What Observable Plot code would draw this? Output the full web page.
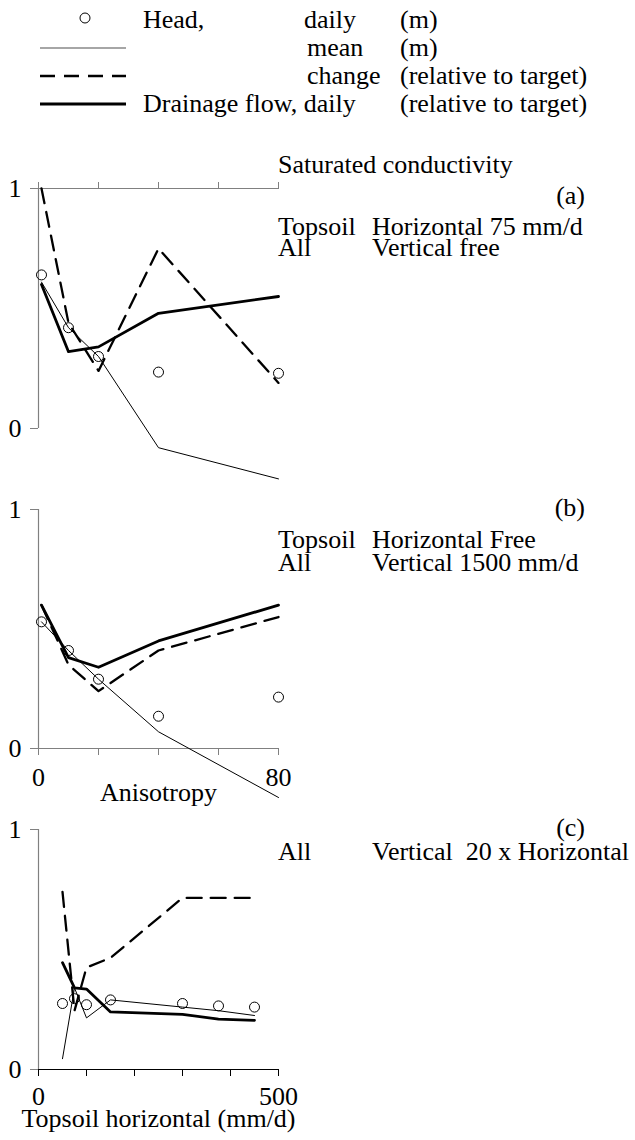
<!DOCTYPE html>
<html><head><meta charset="utf-8">
<script src="https://cdn.jsdelivr.net/npm/d3@7"></script>
<script src="https://cdn.jsdelivr.net/npm/@observablehq/plot@0.6"></script>
<style>
body{margin:0;background:#fff;}
#root{position:relative;width:635px;height:1140px;overflow:hidden;font-family:"Liberation Serif","Times New Roman","DejaVu Serif",serif;font-size:26px;color:#000;background:#fff;}
.t{position:absolute;white-space:pre;line-height:20px;}
.panel{position:absolute;left:0;}
</style></head><body><div id="root"></div>
<script>
// ---- data ----
const anisotropy = [1, 10, 20, 40, 80];
const aHeadDaily  = [0.64, 0.42, 0.30, 0.235, 0.23];
const aHeadMean   = [0.61, 0.42, 0.30, -0.08, -0.21];
const aHeadChange = [1.00, 0.44, 0.24, 0.75, 0.19];
const aDrainDaily = [0.60, 0.32, 0.34, 0.48, 0.55];

const bHeadDaily  = [0.53, 0.41, 0.29, 0.135, 0.215];
const bHeadMean   = [0.53, 0.41, 0.29, 0.07, -0.205];
const bHeadChange = [0.60, 0.35, 0.24, 0.41, 0.55];
const bDrainDaily = [0.60, 0.38, 0.34, 0.45, 0.60];

const topsoilHorizontal = [50, 75, 100, 150, 300, 375, 450];
const cHeadDaily  = [0.275, 0.295, 0.27, 0.29, 0.275, 0.265, 0.26];
const cHeadMean   = [0.045, 0.34, 0.215, 0.29, 0.26, 0.245, 0.225];
const cHeadChange = [0.74, 0.245, 0.425, 0.465, 0.715, 0.715, 0.715];
const cDrainDaily = [0.445, 0.34, 0.335, 0.24, 0.23, 0.21, 0.205];

const yTicks = [0, 1];
const anisoTicks = [0, 20, 40, 60, 80];
const anisoLabels = [0, 80];
const topsoilTicks = [0, 100, 200, 300, 400, 500];
const topsoilLabels = [0, 500];

const legendRows = [
  {sym: "dot",    a: "Head,", b: "daily", c: "(m)"},
  {sym: "thin",   a: "",      b: "mean", c: "(m)"},
  {sym: "dash",   a: "",      b: "change", c: "(relative to target)"},
  {sym: "thick",  a: "Drainage flow, daily", b: "", c: "(relative to target)"}
];

// ---- helpers ----
const root = document.getElementById("root");
const FONT = '"Liberation Serif","Times New Roman","DejaVu Serif",serif';
const AX = "#808080";

function txt(s, x, yc, align = "left") {
  const d = document.createElement("div");
  d.className = "t";
  d.textContent = s;
  d.style.left = x + "px";
  d.style.top = yc + "px";
  d.style.transform = align === "right" ? "translate(-100%,-50%)" : align === "middle" ? "translate(-50%,-50%)" : "translate(0,-50%)";
  root.appendChild(d);
}

function panel(o) {
  const rows = o.xs.map((x, i) => ({x, daily: o.daily[i], mean: o.mean[i], change: o.change[i], drain: o.drain[i]}));
  const marks = [
    Plot.ruleX([o.domain[0]], {y1: 0, y2: 1, stroke: AX, strokeWidth: 1.2}),
    Plot.ruleY([o.top ? 1 : 0], {x1: o.domain[0], x2: o.domain[1], stroke: o.axisColor || AX, strokeWidth: 1.2}),
    Plot.axisY({ticks: yTicks, tickSize: 8, tickPadding: 9, stroke: AX, fontSize: 26, label: null, tickFormat: d => String(d)}),
    Plot.axisX({anchor: o.top ? "top" : "bottom", ticks: o.ticks, tickSize: 7, stroke: o.axisColor || AX, tickFormat: () => "", label: null}),
    Plot.line(rows, {x: "x", y: "mean", stroke: "black", strokeWidth: 1}),
    Plot.line(rows, {x: "x", y: "change", stroke: "black", strokeWidth: 2.3, strokeDasharray: "15,9"}),
    Plot.line(rows, {x: "x", y: "drain", stroke: "black", strokeWidth: 2.8}),
    Plot.dot(rows, {x: "x", y: "daily", r: 5, stroke: "black", fill: "none", strokeWidth: 1})
  ];
  if (o.labels) {
    marks.push(Plot.axisX({anchor: "bottom", ticks: o.labels, tickSize: 0, tickPadding: o.labelPad, fontSize: 26, label: null, tickFormat: d => String(d)}));
  }
  if (o.xLabel) {
    marks.push(Plot.text([o.xLabel], {text: d => d, frameAnchor: "bottom", dy: o.xLabelDy, fontSize: 26}));
  }
  const p = Plot.plot({
    width: 635, height: o.height,
    marginLeft: 38, marginRight: 357, marginTop: o.mt, marginBottom: o.mb,
    x: {domain: o.domain},
    y: {domain: [0, 1]},
    style: {fontFamily: FONT, fontSize: "26px", background: "transparent", overflow: "visible"},
    marks
  });
  const wrap = document.createElement("div");
  wrap.className = "panel";
  wrap.style.top = o.y + "px";
  wrap.appendChild(p);
  root.appendChild(wrap);
}

// ---- panels ----
panel({y: 150, height: 340, mt: 38, mb: 62, domain: [0, 80], top: true, ticks: anisoTicks,
  xs: anisotropy, daily: aHeadDaily, mean: aHeadMean, change: aHeadChange, drain: aDrainDaily});
panel({y: 490, height: 322, mt: 19, mb: 64, domain: [0, 80], top: false, ticks: anisoTicks, labels: anisoLabels, labelPad: 19,
  xLabel: "Anisotropy", xLabelDy: 52,
  xs: anisotropy, daily: bHeadDaily, mean: bHeadMean, change: bHeadChange, drain: bDrainDaily});
panel({y: 812, height: 328, mt: 17, mb: 71, domain: [0, 500], top: false, ticks: topsoilTicks, labels: topsoilLabels, labelPad: 17,
  axisColor: "#000", xLabel: "Topsoil horizontal (mm/d)", xLabelDy: 57,
  xs: topsoilHorizontal, daily: cHeadDaily, mean: cHeadMean, change: cHeadChange, drain: cDrainDaily});

// ---- annotations ----
txt("Saturated conductivity", 278, 165);
txt("(a)", 585, 196, "right");
txt("Topsoil", 278, 227); txt("Horizontal 75 mm/d", 372, 227);
txt("All", 278, 248);     txt("Vertical free", 372, 248);
txt("(b)", 585, 508, "right");
txt("Topsoil", 278, 540); txt("Horizontal Free", 372, 540);
txt("All", 278, 563);     txt("Vertical 1500 mm/d", 372, 563);
txt("(c)", 585, 828, "right");
txt("All", 278, 852);     txt("Vertical  20 x Horizontal", 372, 852);

// ---- legend ----
const legendY = [20, 48, 76, 104];
const ns = "http://www.w3.org/2000/svg";
const lsvg = document.createElementNS(ns, "svg");
lsvg.setAttribute("width", 635); lsvg.setAttribute("height", 130);
lsvg.style.position = "absolute"; lsvg.style.left = "0"; lsvg.style.top = "0";
legendRows.forEach((r, i) => {
  const y = legendY[i];
  let el;
  if (r.sym === "dot") {
    el = document.createElementNS(ns, "circle");
    el.setAttribute("cx", 85); el.setAttribute("cy", y - 2); el.setAttribute("r", 5);
    el.setAttribute("fill", "none"); el.setAttribute("stroke", "black");
  } else {
    el = document.createElementNS(ns, "line");
    el.setAttribute("x1", 40); el.setAttribute("x2", 126);
    el.setAttribute("y1", y); el.setAttribute("y2", y);
    el.setAttribute("stroke", r.sym === "thin" ? "#888" : "black");
    el.setAttribute("stroke-width", r.sym === "thin" ? 1.5 : r.sym === "dash" ? 2.4 : 3);
    if (r.sym === "dash") el.setAttribute("stroke-dasharray", "15,9");
  }
  lsvg.appendChild(el);
});
root.appendChild(lsvg);
legendRows.forEach((r, i) => {
  const y = legendY[i];
  if (r.a) txt(r.a, 143, y);
  if (r.b) txt(r.b, r.sym === "dot" ? 304 : 307, y);
  txt(r.c, 400, y);
});
</script></body></html>
